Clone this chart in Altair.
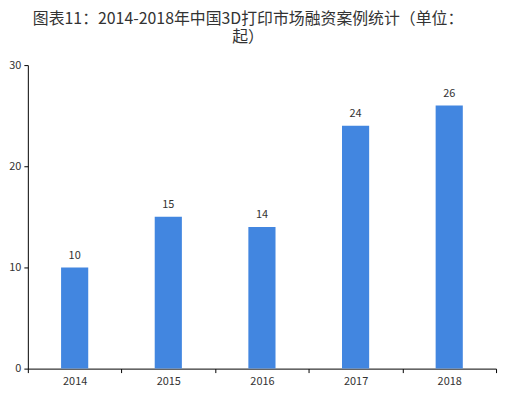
import altair as alt
import pandas as pd

years = ["2014", "2015", "2016", "2017", "2018"]
cases = [10, 15, 14, 24, 26]

df = pd.DataFrame({"year": years, "cases": cases})

font = "Microsoft YaHei, Noto Sans CJK SC, sans-serif"

base = alt.Chart(df).encode(
    x=alt.X("year:N", sort=years,
            scale=alt.Scale(paddingInner=0, paddingOuter=0),
            axis=alt.Axis(title=None, labelAngle=0, tickBand="extent",
                          domainColor="#000", tickColor="#000", tickSize=4,
                          labelColor="#333", labelFontSize=11, labelFont=font,
                          labelPadding=3, grid=False)),
    y=alt.Y("cases:Q", scale=alt.Scale(domain=[0, 30]),
            axis=alt.Axis(title=None, values=[0, 10, 20, 30], tickSize=4,
                          domainColor="#000", tickColor="#000",
                          labelColor="#333", labelFontSize=11, labelFont=font,
                          labelPadding=3, grid=False)),
)

bars = base.mark_bar(color="#4286E0", width=alt.RelativeBandSize(0.29))
labels = base.mark_text(dy=-12, fontSize=11, color="#333", font=font).encode(text="cases:Q")

chart = (bars + labels).properties(
    width=472, height=306,
    autosize="none",
    padding={"left": 20, "top": 56, "right": 5, "bottom": 20},
    title=alt.TitleParams(
        text=["图表11：2014-2018年中国3D打印市场融资案例统计（单位：", "起）"],
        fontSize=16, font=font, fontWeight="normal", color="#333",
        anchor="middle", offset=14, dx=-14, lineHeight=18,
    ),
).configure_view(stroke=None)

chart.save("out.html", embed_options={"renderer": "svg", "actions": False})
